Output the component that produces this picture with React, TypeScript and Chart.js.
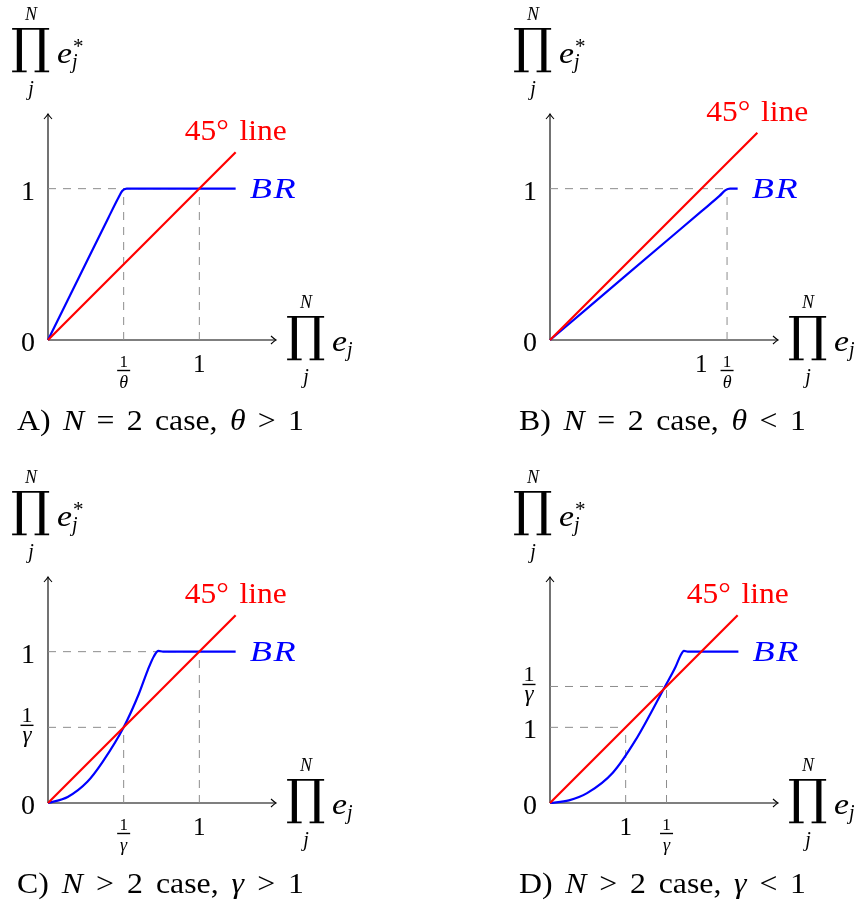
import React, { useEffect, useRef } from "react";
import { Chart, registerables } from "chart.js";

Chart.register(...registerables);

const RED = "#ff0000";
const BLUE = "#0000ff";
const GUIDE = "#8c8c8c";
const SERIF = "'Liberation Serif', 'Times New Roman', Times, serif";

// Panel A: N = 2, theta > 1
const invThetaA = 0.5;
const brAx = [0, 0.2, 0.4, 0.46, 0.49, 0.52, 0.6, 1.24];
const brAy = [0, 0.405, 0.81, 0.93, 0.985, 1.0, 1.0, 1.0];
const diagA = [0, 1.24];

// Panel B: N = 2, theta < 1
const invThetaB = 1.17;
const brBx = [0, 0.5, 1.0, 1.12, 1.16, 1.19, 1.24];
const brBy = [0, 0.425, 0.85, 0.952, 0.99, 1.0, 1.0];
const diagB = [0, 1.37];

// Panel C: N > 2, gamma > 1
const invGammaC = 0.5;
const brCx = [0, 0.13, 0.26, 0.36, 0.5, 0.6, 0.66, 0.7, 0.73, 0.76, 1.24];
const brCy = [0, 0.04, 0.14, 0.27, 0.5, 0.72, 0.88, 0.97, 1.005, 1.0, 1.0];
const diagC = [0, 1.24];

// Panel D: N > 2, gamma < 1
const invGammaD = 1.54;
const brDx = [0, 0.25, 0.49, 0.83, 1.13, 1.52, 1.66, 1.73, 1.77, 1.82, 2.49];
const brDy = [0, 0.035, 0.13, 0.4, 0.83, 1.54, 1.8, 1.96, 2.01, 2.0, 2.0];
const diagD = [0, 2.48];

// Tick values and labels ("a/b" is drawn as a fraction)
const xTickValsA = [invThetaA, 1];
const xTickLabelsA = ["1/θ", "1"];
const yTickValsA = [0, 1];
const yTickLabelsA = ["0", "1"];

const xTickValsB = [1, invThetaB];
const xTickLabelsB = ["1", "1/θ"];
const yTickValsB = [0, 1];
const yTickLabelsB = ["0", "1"];

const xTickValsC = [invGammaC, 1];
const xTickLabelsC = ["1/γ", "1"];
const yTickValsC = [0, invGammaC, 1];
const yTickLabelsC = ["0", "1/γ", "1"];

const xTickValsD = [1, invGammaD];
const xTickLabelsD = ["1", "1/γ"];
const yTickValsD = [0, 1, invGammaD];
const yTickLabelsD = ["0", "1", "1/γ"];

// Dashed guide segments: [x1, y1, x2, y2]
const guidesA = [[0, 1, 1, 1], [invThetaA, 0, invThetaA, 1], [1, 0, 1, 1]];
const guidesB = [[0, 1, invThetaB, 1], [invThetaB, 0, invThetaB, 1]];
const guidesC = [[0, 1, 1, 1], [0, invGammaC, invGammaC, invGammaC], [invGammaC, 0, invGammaC, invGammaC], [1, 0, 1, 1]];
const guidesD = [[0, 1, 1, 1], [1, 0, 1, 1], [0, invGammaD, invGammaD, invGammaD], [invGammaD, 0, invGammaD, invGammaD]];

type Run = [string, boolean];
const captionA: Run[] = [["A) ", false], ["N", true], [" = 2 case, ", false], ["θ", true], [" > 1", false]];
const captionB: Run[] = [["B) ", false], ["N", true], [" = 2 case, ", false], ["θ", true], [" < 1", false]];
const captionC: Run[] = [["C) ", false], ["N", true], [" > 2 case, ", false], ["γ", true], [" > 1", false]];
const captionD: Run[] = [["D) ", false], ["N", true], [" > 2 case, ", false], ["γ", true], [" < 1", false]];

interface PanelSpec {
  key: string;
  left: number;
  top: number;
  width: number;
  max: number;
  brX: number[];
  brY: number[];
  diag: number[];
  guides: number[][];
  xTickVals: number[];
  xTickLabels: string[];
  yTickVals: number[];
  yTickLabels: string[];
  caption: Run[];
}

const H = 445;

function font(size: number, italic = false) {
  return `${italic ? "italic " : ""}${size}px ${SERIF}`;
}

function drawText(
  ctx: CanvasRenderingContext2D,
  text: string,
  x: number,
  y: number,
  f: string,
  color: string,
  align: "left" | "center" | "right"
) {
  ctx.save();
  ctx.font = f;
  ctx.fillStyle = color;
  ctx.textBaseline = "alphabetic";
  ctx.textAlign = align;
  ctx.fillText(text, x, y);
  ctx.restore();
}

// Draws styled runs character by character so the line spans a given width:
// glyphs are widened up to maxStretch, the remaining room widens the spaces
// (or, with no spaces, goes evenly between characters).
function drawSpaced(
  ctx: CanvasRenderingContext2D,
  runs: Run[],
  x: number,
  y: number,
  size: number,
  color: string,
  target: number,
  maxStretch: number,
  align: "left" | "center" = "left"
) {
  const chars: { ch: string; f: string; w: number }[] = [];
  ctx.save();
  runs.forEach(([t, it]) => {
    const f = font(size, it);
    ctx.font = f;
    for (const ch of Array.from(t)) chars.push({ ch, f, w: ctx.measureText(ch).width });
  });
  const natural = chars.reduce((s, c) => s + c.w, 0);
  const sx = Math.min(target / natural, maxStretch);
  const room = target - natural * sx;
  const spaces = chars.filter((c) => c.ch === " ").length;
  const perSpace = spaces > 0 ? room / spaces : 0;
  const perGap = spaces === 0 && chars.length > 1 ? room / (chars.length - 1) : 0;
  let cx = align === "center" ? x - target / 2 : x;
  ctx.fillStyle = color;
  ctx.textBaseline = "alphabetic";
  ctx.textAlign = "left";
  chars.forEach((c) => {
    ctx.font = c.f;
    ctx.save();
    ctx.translate(cx, y);
    ctx.scale(sx, 1);
    ctx.fillText(c.ch, 0, 0);
    ctx.restore();
    cx += c.w * sx + perGap + (c.ch === " " ? perSpace : 0);
  });
  ctx.restore();
}

// Big product sign with limits, followed by e_j (and optional star)
function drawProd(ctx: CanvasRenderingContext2D, L: number, T: number, star: boolean) {
  ctx.save();
  ctx.font = "100px 'DejaVu Serif'";
  ctx.textBaseline = "alphabetic";
  ctx.textAlign = "left";
  const m = ctx.measureText("∏");
  const gw = m.actualBoundingBoxLeft + m.actualBoundingBoxRight;
  const gh = m.actualBoundingBoxAscent + m.actualBoundingBoxDescent;
  ctx.translate(L, T);
  ctx.scale(38 / gw, 45 / gh);
  ctx.fillStyle = "#000";
  ctx.fillText("∏", m.actualBoundingBoxLeft, m.actualBoundingBoxAscent);
  ctx.restore();

  drawText(ctx, "N", L + 19, T - 8, font(18, true), "#000", "center");
  drawText(ctx, "j", L + 19, T + 67, font(20, true), "#000", "center");
  drawSpaced(ctx, [["e", true]], L + 45, T + 35, 30, "#000", 15, 1.15);
  drawText(ctx, "j", L + 60, T + 40, font(20, true), "#000", "left");
  if (star) drawText(ctx, "*", L + 61, T + 25, font(21), "#000", "left");
}

function drawArrow(ctx: CanvasRenderingContext2D, tx: number, ty: number, dir: "right" | "up") {
  ctx.beginPath();
  if (dir === "right") {
    ctx.moveTo(tx - 5, ty - 4);
    ctx.quadraticCurveTo(tx - 1.5, ty - 0.8, tx, ty);
    ctx.quadraticCurveTo(tx - 1.5, ty + 0.8, tx - 5, ty + 4);
  } else {
    ctx.moveTo(tx - 4, ty + 5);
    ctx.quadraticCurveTo(tx - 0.8, ty + 1.5, tx, ty);
    ctx.quadraticCurveTo(tx + 0.8, ty + 1.5, tx + 4, ty + 5);
  }
  ctx.stroke();
}

function drawFrac(
  ctx: CanvasRenderingContext2D,
  cx: number,
  barY: number,
  num: string,
  den: string,
  size: number,
  numOff: number,
  denOff: number
) {
  drawText(ctx, num, cx, barY - numOff, font(size), "#000", "center");
  ctx.save();
  ctx.fillStyle = "#000";
  ctx.fillRect(cx - 6.5, barY - 0.7, 13, 1.4);
  ctx.restore();
  drawText(ctx, den, cx, barY + denOff, font(size + 1, true), "#000", "center");
}

function decorPlugin(p: PanelSpec) {
  return {
    id: "decor" + p.key,
    beforeDatasetsDraw(chart: Chart) {
      const { ctx, chartArea: a } = chart;
      ctx.save();
      ctx.strokeStyle = "#000";
      ctx.lineWidth = 1.1;
      ctx.beginPath();
      ctx.moveTo(a.left, a.bottom);
      ctx.lineTo(a.right, a.bottom);
      ctx.moveTo(a.left, a.bottom);
      ctx.lineTo(a.left, a.top + 1);
      ctx.stroke();
      drawArrow(ctx, a.right + 1, a.bottom, "right");
      drawArrow(ctx, a.left, a.top + 1, "up");
      ctx.restore();
    },
    afterDraw(chart: Chart) {
      const { ctx, chartArea: a } = chart;
      const xs = chart.scales.x;
      const ys = chart.scales.y;

      // y tick labels
      p.yTickVals.forEach((v, i) => {
        const py = ys.getPixelForValue(v);
        const lab = p.yTickLabels[i];
        if (lab.includes("/")) {
          const [n, d] = lab.split("/");
          drawFrac(ctx, a.left - 21, py - 2, n, d, 22, 3, 17);
        } else {
          drawText(ctx, lab, a.left - 13, py + 11, font(28), "#000", "right");
        }
      });

      // x tick labels
      p.xTickVals.forEach((v, i) => {
        const px = xs.getPixelForValue(v);
        const lab = p.xTickLabels[i];
        if (lab.includes("/")) {
          const [n, d] = lab.split("/");
          drawFrac(ctx, px, a.bottom + 30.5, n, d, 17, 3.5, 17);
        } else {
          drawText(ctx, lab, px, a.bottom + 32, font(25), "#000", "center");
        }
      });

      // axis titles
      drawProd(ctx, a.left - 36, a.top - 85, true);
      drawProd(ctx, a.right + 12, a.bottom - 24, false);

      // 45 degree line label at the end of the diagonal
      const dEnd = p.diag[p.diag.length - 1];
      drawSpaced(
        ctx,
        [["45° line", false]],
        xs.getPixelForValue(dEnd),
        ys.getPixelForValue(dEnd) - 12,
        30,
        RED,
        102,
        1.05,
        "center"
      );

      // best-response label at the end of the BR curve
      const bx = p.brX[p.brX.length - 1];
      const by = p.brY[p.brY.length - 1];
      drawSpaced(ctx, [["BR", true]], xs.getPixelForValue(bx) + 14, ys.getPixelForValue(by) + 9, 29, BLUE, 46, 1.25);

      // caption
      drawSpaced(ctx, p.caption, a.left - 31, a.bottom + 90, 30, "#000", 287, 1.06);
    },
  };
}

function Panel({ spec }: { spec: PanelSpec }) {
  const ref = useRef<HTMLCanvasElement>(null);
  useEffect(() => {
    const canvas = ref.current;
    if (!canvas) return;
    const pts = (xs: number[], ys: number[]) => xs.map((x, i) => ({ x, y: ys[i] }));
    const base = { pointRadius: 0, pointHoverRadius: 0, fill: false, clip: false as any };
    const datasets: any[] = [
      { ...base, data: pts(spec.diag, spec.diag), borderColor: RED, borderWidth: 2.2 },
      {
        ...base,
        data: pts(spec.brX, spec.brY),
        borderColor: BLUE,
        borderWidth: 2.2,
        cubicInterpolationMode: "monotone",
        borderJoinStyle: "round",
      },
      ...spec.guides.map((g) => ({
        ...base,
        data: [
          { x: g[0], y: g[1] },
          { x: g[2], y: g[3] },
        ],
        borderColor: GUIDE,
        borderWidth: 1,
        borderDash: [8, 7],
      })),
    ];
    const chart = new Chart(canvas, {
      type: "line",
      data: { datasets },
      options: {
        responsive: false,
        animation: false,
        events: [],
        layout: { padding: { left: 48, top: 113, right: spec.width - 275, bottom: H - 340 } },
        plugins: { legend: { display: false }, tooltip: { enabled: false }, title: { display: false } },
        scales: {
          x: { type: "linear", min: 0, max: spec.max, display: false },
          y: { type: "linear", min: 0, max: spec.max, display: false },
        },
      },
      plugins: [decorPlugin(spec) as any],
    });
    return () => chart.destroy();
  }, [spec]);
  return (
    <canvas
      ref={ref}
      width={spec.width}
      height={H}
      style={{ position: "absolute", left: spec.left, top: spec.top, width: spec.width, height: H }}
    />
  );
}

const panels: PanelSpec[] = [
  {
    key: "A", left: 0, top: 0, width: 440, max: 1.5,
    brX: brAx, brY: brAy, diag: diagA, guides: guidesA,
    xTickVals: xTickValsA, xTickLabels: xTickLabelsA, yTickVals: yTickValsA, yTickLabels: yTickLabelsA,
    caption: captionA,
  },
  {
    key: "B", left: 502, top: 0, width: 358, max: 1.5,
    brX: brBx, brY: brBy, diag: diagB, guides: guidesB,
    xTickVals: xTickValsB, xTickLabels: xTickLabelsB, yTickVals: yTickValsB, yTickLabels: yTickLabelsB,
    caption: captionB,
  },
  {
    key: "C", left: 0, top: 463, width: 440, max: 1.5,
    brX: brCx, brY: brCy, diag: diagC, guides: guidesC,
    xTickVals: xTickValsC, xTickLabels: xTickLabelsC, yTickVals: yTickValsC, yTickLabels: yTickLabelsC,
    caption: captionC,
  },
  {
    key: "D", left: 502, top: 463, width: 358, max: 3,
    brX: brDx, brY: brDy, diag: diagD, guides: guidesD,
    xTickVals: xTickValsD, xTickLabels: xTickLabelsD, yTickVals: yTickValsD, yTickLabels: yTickLabelsD,
    caption: captionD,
  },
];

export default function App() {
  return (
    <div style={{ position: "fixed", left: 0, top: 0, width: 860, height: 908, background: "#fff", overflow: "hidden" }}>
      {panels.map((p) => (
        <Panel key={p.key} spec={p} />
      ))}
    </div>
  );
}
